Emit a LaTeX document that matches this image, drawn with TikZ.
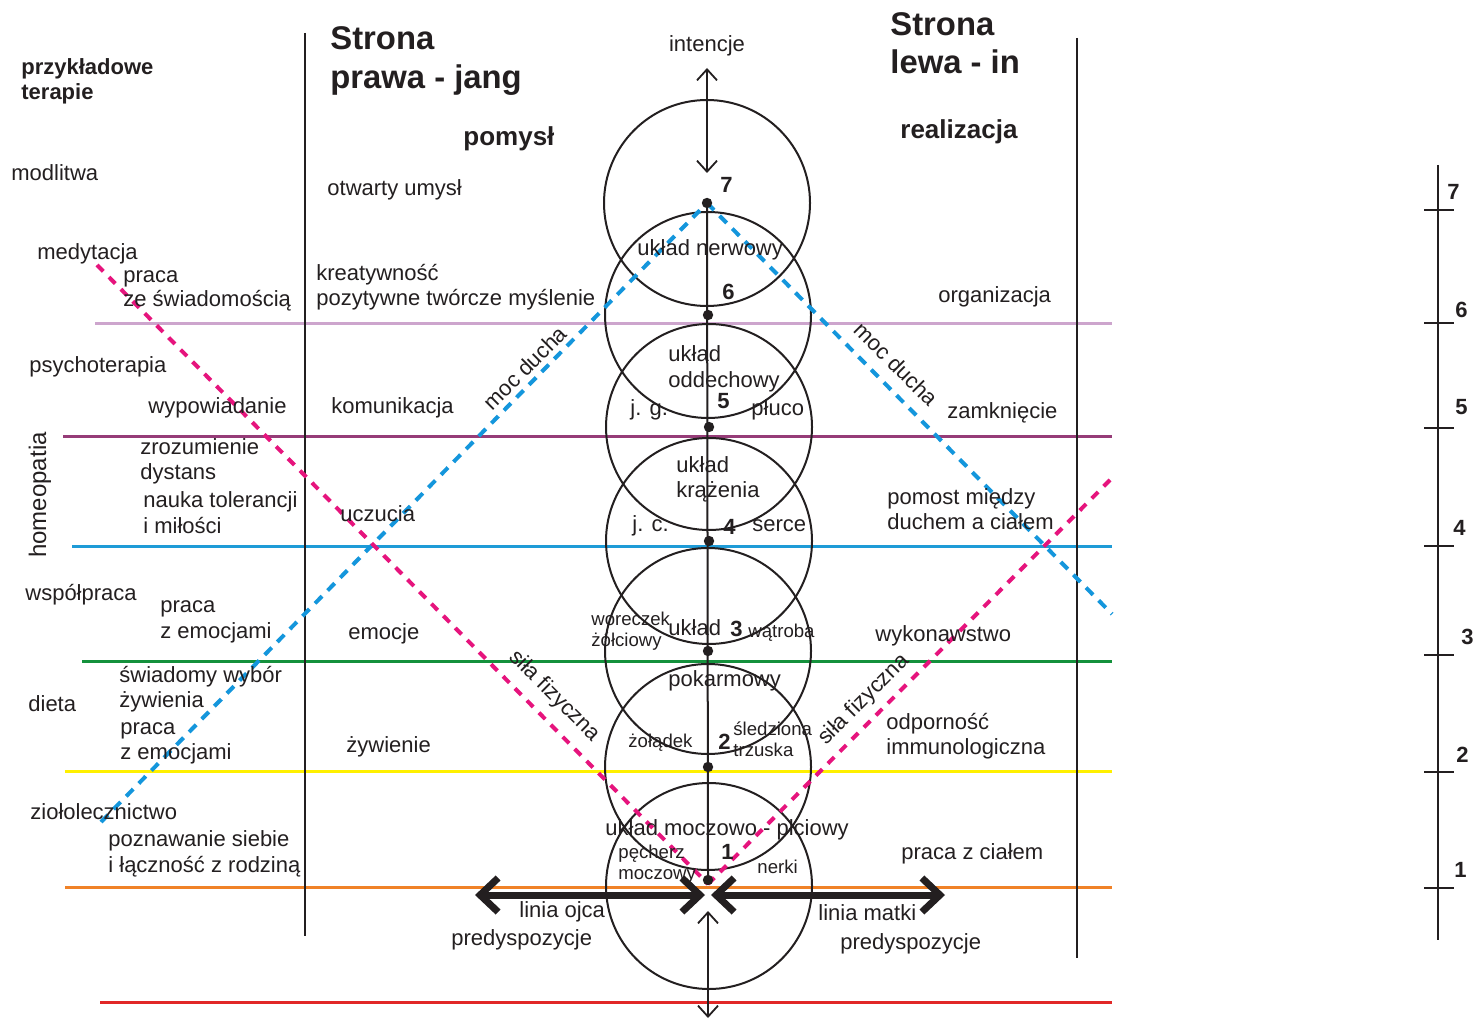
\documentclass[tikz,border=0pt]{standalone}
\usepackage{fontspec}
\setmainfont{Liberation Sans}
\usetikzlibrary{arrows.meta}
\definecolor{ink}{HTML}{231F20}
\definecolor{lilac}{RGB}{205,165,205}
\definecolor{plum}{RGB}{150,60,120}
\definecolor{hblue}{RGB}{30,155,215}
\definecolor{hgreen}{RGB}{20,145,60}
\definecolor{hyellow}{RGB}{255,240,0}
\definecolor{horange}{RGB}{240,130,40}
\definecolor{hred}{RGB}{225,40,40}
\definecolor{dblue}{RGB}{20,150,220}
\definecolor{dpink}{RGB}{230,20,125}
\begin{document}
\begin{tikzpicture}[x=0.5pt,y=-0.5pt,
  txt/.style={anchor=base west,inner sep=0pt,text=ink,font=\fontsize{11}{13}\selectfont},
  sm/.style={txt,font=\fontsize{9.3}{11}\selectfont},
  num/.style={txt,font=\fontsize{11}{13}\selectfont\bfseries},
  bighead/.style={txt,font=\fontsize{16.4}{19}\selectfont\bfseries},
  subhead/.style={txt,font=\fontsize{13}{15}\selectfont\bfseries},
  rot/.style={anchor=center,inner sep=0pt,text=ink,font=\fontsize{11}{13}\selectfont},
  band/.style={line width=1.5pt},
  ring/.style={draw=ink,line width=1pt,circle,minimum size=103pt,inner sep=0pt},
  bluedash/.style={draw=dblue,line width=2pt,dash pattern=on 5pt off 4pt},
  pinkdash/.style={draw=dpink,line width=2pt,dash pattern=on 4.5pt off 4pt},
  thinarrow/.style={draw=ink,line width=0.9pt,{Straight Barb[length=5.5pt,width=10pt]}-{Straight Barb[length=5.5pt,width=10pt]}},
  thickarrow/.style={draw=ink,line width=3.5pt,{Straight Barb[length=9pt,width=17pt]}-{Straight Barb[length=9pt,width=17pt]}},
  vline/.style={draw=ink,line width=1pt}
]
\useasboundingbox (0,0) rectangle (1475,1020);
\fill[white] (0,0) rectangle (1475,1020);

% horizontal colour bands
\draw[band,lilac]   (95,324)  -- (1112,324);
\draw[band,plum]    (63,437)  -- (1112,437);
\draw[band,hblue]   (72,546)  -- (1112,546);
\draw[band,hgreen]  (82,661)  -- (1112,661);
\draw[band,hyellow] (65,771)  -- (1112,771);
\draw[band,horange] (65,887)  -- (1112,887);
\draw[band,hred]    (100,1002) -- (1112,1002);

% vertical separators
\draw[vline] (305,33) -- (305,936);
\draw[vline] (1077,38) -- (1077,958);

% centre points
\coordinate (p7) at (707,203);
\coordinate (p6) at (708,315);
\coordinate (p5) at (709,427);
\coordinate (p4) at (709,541);
\coordinate (p3) at (708,651);
\coordinate (p2) at (708,767);
\coordinate (p1) at (708,880);
\coordinate (q1) at (709,886);
\coordinate (apexlow) at (708,884);

% circles
\node[ring] (c7) at (p7) {};
\node[ring] (c6) at (p6) {};
\node[ring] (c5) at (p5) {};
\node[ring] (c4) at (p4) {};
\node[ring] (c3) at (p3) {};
\node[ring] (c2) at (p2) {};
\node[ring] (c1) at (q1) {};

% dashed lines
\coordinate (b1) at (101,822);
\coordinate (b2) at (1112,614);
\coordinate (m1) at (97,265);
\coordinate (m2) at (1112,478);
\draw[bluedash] (b1) -- (p7);
\draw[bluedash] (p7) -- (b2);
\draw[pinkdash] (m1) -- (apexlow);
\draw[pinkdash] (apexlow) -- (m2);

% axis
\draw[vline] (p7) -- (p1);
\foreach \p in {p7,p6,p5,p4,p3,p2,p1} \fill[ink] (\p) circle[radius=2.6pt];
\coordinate (ia) at (707,68);
\coordinate (ib) at (707,173);
\draw[thinarrow] (ia) -- (ib);
\coordinate (ja) at (708,911);
\coordinate (jb) at (708,1018);
\draw[thinarrow] (ja) -- (jb);

% thick arrows
\coordinate (la) at (475,895);
\coordinate (lb) at (705,895);
\coordinate (ra) at (711,895);
\coordinate (rb) at (945,895);
\draw[thickarrow] (la) -- (lb);
\draw[thickarrow] (ra) -- (rb);

% scale on the right
\coordinate (sa) at (1438,165);
\coordinate (sb) at (1438,940);
\draw[vline] (sa) -- (sb);
\foreach \y/\n/\lx/\ly in {210/7/1447/200, 323/6/1455/318, 428/5/1455/415, 546/4/1453/536, 655/3/1461/644, 772/2/1456/762, 888/1/1454/877}{
  \draw[vline] (1424,\y) -- (1454,\y);
  \node[num] (s\n) at (\lx,\ly) {\n};
}

% left column
\node[txt,font=\fontsize{11}{13}\selectfont\bfseries] (t0a) at (21,75) {przykładowe};
\node[txt,font=\fontsize{11}{13}\selectfont\bfseries] (t0b) at (21,100) {terapie};
\node[txt] (t1) at (11,181) {modlitwa};
\node[txt] (t2) at (37,260) {medytacja};
\node[txt] (t3a) at (123,283) {praca};
\node[txt] (t3b) at (123,307) {ze świadomością};
\node[txt] (t4) at (29,373) {psychoterapia};
\node[txt] (t5) at (148,414) {wypowiadanie};
\node[rot,rotate=90,font=\fontsize{12}{14}\selectfont] (t6) at (40,495) {homeopatia};
\node[txt] (t7a) at (140,455) {zrozumienie};
\node[txt] (t7b) at (140,480) {dystans};
\node[txt] (t8a) at (143,508) {nauka tolerancji};
\node[txt] (t8b) at (143,533) {i miłości};
\node[txt] (t9) at (25,600) {współpraca};
\node[txt] (t10a) at (160,612) {praca};
\node[txt] (t10b) at (160,638) {z emocjami};
\node[txt] (t11a) at (119,682) {świadomy wybór};
\node[txt] (t11b) at (119,707) {żywienia};
\node[txt] (t12) at (28,711) {dieta};
\node[txt] (t13a) at (120,734) {praca};
\node[txt] (t13b) at (120,759) {z emocjami};
\node[txt] (t14) at (30,819) {ziołolecznictwo};
\node[txt] (t15a) at (108,846) {poznawanie siebie};
\node[txt] (t15b) at (108,872) {i łączność z rodziną};

% jang column
\node[bighead] (h1a) at (330,50) {Strona};
\node[bighead] (h1b) at (330,89) {prawa - jang};
\node[subhead] (h1c) at (463,146) {pomysł};
\node[txt] (u1) at (327,196) {otwarty umysł};
\node[txt] (u2a) at (316,281) {kreatywność};
\node[txt] (u2b) at (316,306) {pozytywne twórcze myślenie};
\node[txt] (u3) at (331,414) {komunikacja};
\node[txt] (u4) at (340,522) {uczucia};
\node[txt] (u5) at (348,639) {emocje};
\node[txt] (u6) at (346,752) {żywienie};
\node[txt] (u7) at (519,917) {linia ojca};
\node[txt] (u8) at (451,945) {predyspozycje};

% centre column
\node[txt,anchor=base] (k0) at (707,52) {intencje};
\node[num] (n7) at (720,193) {7};
\node[txt] (k1) at (637,256) {układ nerwowy};
\node[num] (n6) at (722,300) {6};
\node[txt] (k2a) at (668,362) {układ};
\node[txt] (k2b) at (668,388) {oddechowy};
\node[txt] (k2c) at (630,416) {j. g.};
\node[num] (n5) at (717,409) {5};
\node[txt] (k2d) at (751,416) {płuco};
\node[txt] (k3a) at (676,473) {układ};
\node[txt] (k3b) at (676,498) {krążenia};
\node[txt] (k3c) at (632,531) {j. c.};
\node[num] (n4) at (723,534) {4};
\node[txt] (k3d) at (752,531) {serce};
\node[sm] (k4a) at (591,625) {woreczek};
\node[sm] (k4b) at (591,646) {żółciowy};
\node[txt] (k4c) at (668,635) {układ};
\node[num] (n3) at (730,636) {3};
\node[sm] (k4d) at (748,637) {wątroba};
\node[txt] (k4e) at (668,686) {pokarmowy};
\node[sm] (k5a) at (628,747) {żołądek};
\node[num] (n2) at (718,749) {2};
\node[sm] (k5b) at (733,735) {śledziona};
\node[sm] (k5c) at (733,756) {trzuska};
\node[txt] (k6a) at (605,835) {układ moczowo - płciowy};
\node[sm] (k6b) at (618,858) {pęcherz};
\node[sm] (k6c) at (618,879) {moczowy};
\node[num] (n1) at (721,859) {1};
\node[sm] (k6d) at (757,873) {nerki};

% in column
\node[bighead] (h2a) at (890,36) {Strona};
\node[bighead] (h2b) at (890,74) {lewa - in};
\node[subhead] (h2c) at (900,139) {realizacja};
\node[txt] (r1) at (938,303) {organizacja};
\node[txt] (r2) at (947,419) {zamknięcie};
\node[txt] (r3a) at (887,504) {pomost między};
\node[txt] (r3b) at (887,530) {duchem a ciałem};
\node[txt] (r4) at (875,641) {wykonawstwo};
\node[txt] (r5a) at (886,729) {odporność};
\node[txt] (r5b) at (886,754) {immunologiczna};
\node[txt] (r6) at (901,859) {praca z ciałem};
\node[txt] (r7) at (818,920) {linia matki};
\node[txt] (r8) at (840,949) {predyspozycje};

% rotated labels on the dashed lines
\node[rot,rotate=45] (d1) at (525,368) {moc ducha};
\node[rot,rotate=-45] (d2) at (896,364) {moc ducha};
\node[rot,rotate=-45] (d3) at (554,696) {siła fizyczna};
\node[rot,rotate=45] (d4) at (864,700) {siła fizyczna};
\end{tikzpicture}
\end{document}
